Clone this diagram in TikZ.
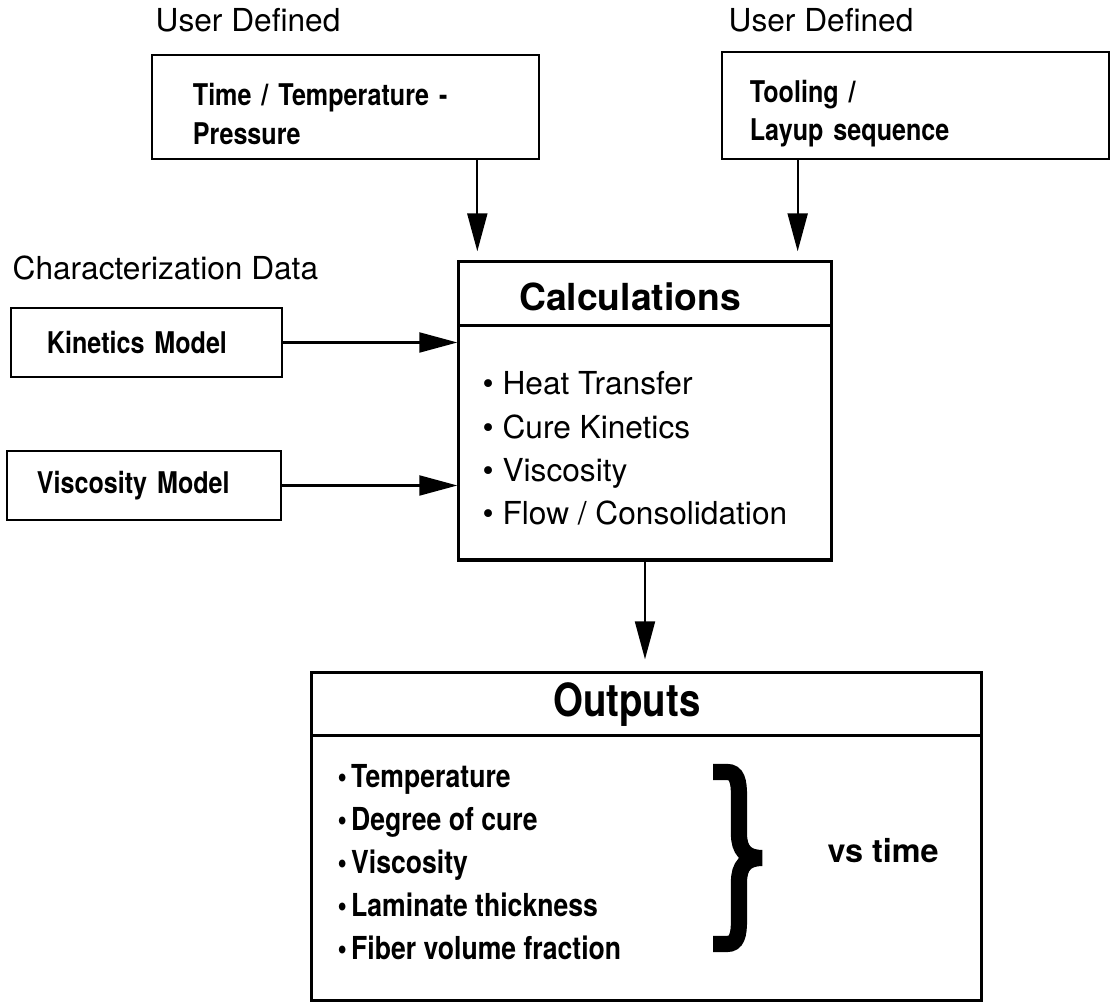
\documentclass[tikz,border=0pt]{standalone}
\usepackage{fontspec}
\setmainfont{TeX Gyre Heros}
\newfontfamily\condfont[FakeStretch=0.84]{TeX Gyre Heros}
\usetikzlibrary{arrows.meta}

\begin{document}
\begin{tikzpicture}[x=0.01cm,y=-0.01cm,
  inbox/.style={draw,line width=0.6pt,align=left,minimum height=0.69cm,
    font=\condfont\bfseries\fontsize{8.5}{11}\selectfont},
  bigbox/.style={draw,line width=0.9pt},
  plain/.style={font=\fontsize{9}{11}\selectfont,inner sep=0pt},
  feed/.style={-{Triangle[length=0.38cm,width=0.2cm]},line width=0.6pt}]
\useasboundingbox (0,0) rectangle (1111,1004);

% inputs
\node[plain,anchor=base west] (userleft) at (155,32) {User Defined};
\node[plain,anchor=base west] (userright) at (728,32) {User Defined};
\node[plain,anchor=base west] (chardata) at (12,280) {Characterization Data};
\node[inbox,minimum height=1.04cm,inner xsep=0.41cm,text width=3.05cm] (timebox) at (345.5,107) {\rule{0pt}{10.5pt}Time / Temperature -\\Pressure};
\node[inbox,minimum height=1.05cm,inner xsep=0.28cm,text width=3.31cm] (toolbox) at (915.5,105.5) {\rule{0pt}{11pt}Tooling /\\Layup  sequence};
\node[inbox,inner xsep=0.36cm,text width=1.99cm] (kinbox) at (146.5,342.5) {Kinetics Model};
\node[inbox,inner xsep=0.30cm,text width=2.14cm] (viscbox) at (144,485.5) {Viscosity Model};

% calculations
\node[bigbox,minimum width=3.72cm,minimum height=2.98cm] (calc) at (645,411) {};
\draw[line width=0.9pt] ([yshift=-0.65cm]calc.north west) -- ([yshift=-0.65cm]calc.north east);
\node[font=\bfseries\fontsize{10.6}{13}\selectfont] (calctitle) at (630,297) {Calculations};
\foreach \t [count=\i] in {Heat Transfer,Cure Kinetics,Viscosity,Flow / Consolidation}
  \node[plain,anchor=base west] (calc\i) at (482,395+43.3*\i-43.3) {\textbullet\ \t};

% outputs
\node[bigbox,minimum width=6.69cm,minimum height=3.27cm] (out) at (646.5,836.5) {};
\draw[line width=0.9pt] ([yshift=-0.64cm]out.north west) -- ([yshift=-0.64cm]out.north east);
\node[font=\condfont\bfseries\fontsize{13}{15}\selectfont] (outtitle) at (627,705) {Outputs};
\foreach \t [count=\i] in {Temperature,Degree  of cure,Viscosity,Laminate  thickness,Fiber  volume  fraction}
  \node[plain,font=\condfont\bfseries\fontsize{9}{11}\selectfont,anchor=base west] (out\i) at (337,788+43*\i-43) {\textbullet\kern1.2pt\t};
\node[plain,font=\bfseries\fontsize{9.2}{11}\selectfont,anchor=base west] (vstime) at (827,863) {vs time};
\draw[line width=4.6pt,line join=miter] (713,772) -- (727,772) .. controls (737,772) and (739,781) .. (739,796) -- (739,834)
  .. controls (739,850) and (746,858) .. (762,858) .. controls (746,858) and (739,866) .. (739,882) -- (739,920)
  .. controls (739,935) and (737,944) .. (727,944) -- (713,944);

% connectors
\draw[feed,shorten >=0.09cm] ([xshift=0.2cm]calc.north west |- timebox.south) -- ([xshift=0.2cm]calc.north west);
\draw[feed,shorten >=0.09cm] ([xshift=-0.35cm]calc.north east |- toolbox.south) -- ([xshift=-0.35cm]calc.north east);
\draw[feed] (kinbox.east) -- (kinbox.east -| calc.west);
\draw[feed] (viscbox.east) -- (viscbox.east -| calc.west);
\draw[feed,shorten >=0.12cm] (calc.south) -- (calc.south |- out.north);
\end{tikzpicture}
\end{document}
